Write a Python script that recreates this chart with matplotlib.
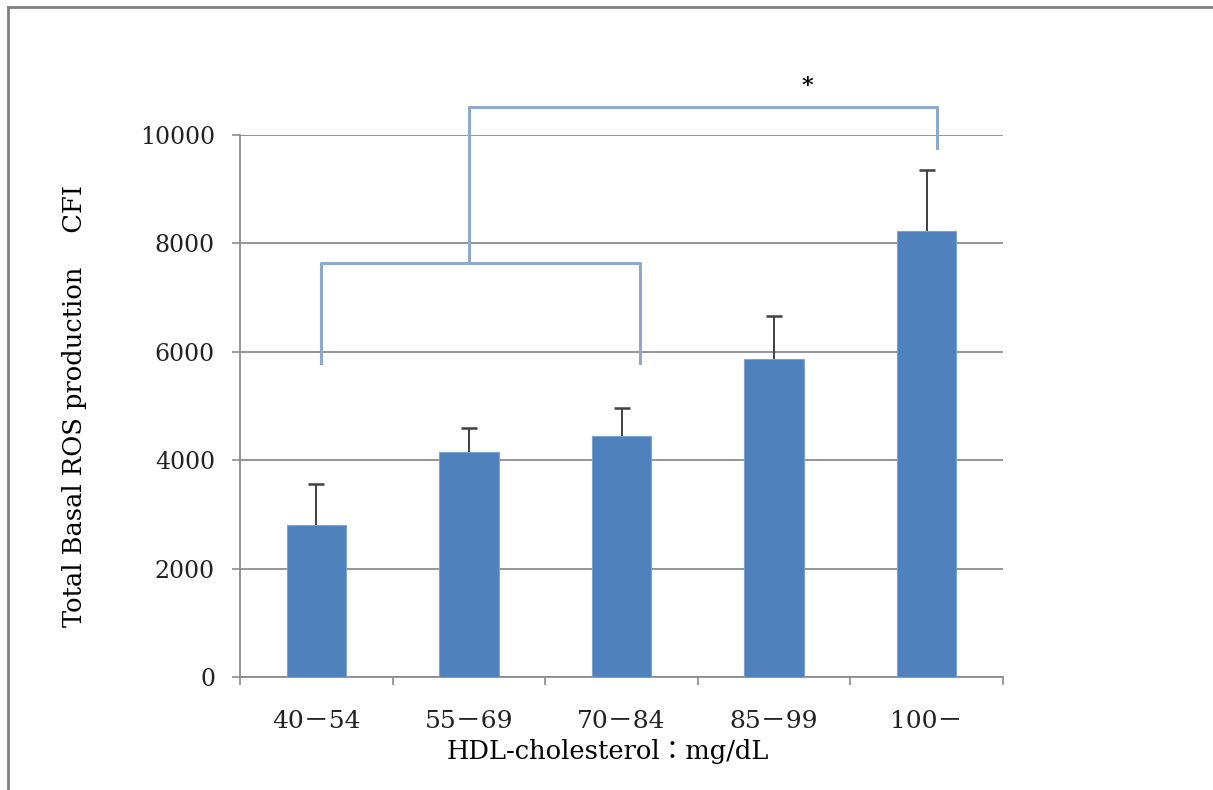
import matplotlib
matplotlib.use("Agg")
import matplotlib.pyplot as plt
import numpy as np

plt.rcParams['font.family'] = ['DejaVu Serif', 'Noto Sans CJK JP']

# データ
groups = ["40－54", "55－69", "70－84", "85－99", "100－"]
ros_mean = [2800, 4150, 4450, 5870, 8220]
ros_err = [760, 440, 510, 790, 1130]

# ブラケット (x, y)
inner_bracket_x = [0.03, 0.03, 2.12, 2.12]
inner_bracket_y = [5800, 7640, 7640, 5800]
outer_bracket_x = [1.0, 1.0, 4.07, 4.07]
outer_bracket_y = [7640, 10520, 10520, 9760]
star_pos = (3.22, 10900)

BAR_COLOR = "#4F81BD"
BRACKET_COLOR = "#8EA9CC"
GRID_COLOR = "#8C8C8C"

fig = plt.figure(figsize=(12.13, 7.90), dpi=100)
ax = fig.add_axes([240 / 1213, 1 - 677 / 790, 763 / 1213, 542 / 790])

x = np.arange(len(groups))
ax.bar(x, ros_mean, width=0.39, color=BAR_COLOR, edgecolor="#7FA3D0", linewidth=0.8, zorder=3)
# 上側のみの誤差棒
err_top = np.array(ros_mean) + np.array(ros_err)
ax.vlines(x, ros_mean, err_top, color="#404040", linewidth=1.4, zorder=4)
ax.plot(x, err_top, linestyle="none", marker="_", markersize=12, markeredgewidth=1.8,
        color="#404040", zorder=4)

ax.set_xlim(-0.5, len(groups) - 0.5)
ax.set_ylim(0, 10000)
ax.set_yticks(np.arange(0, 10001, 2000))
ax.set_xticks(x)
ax.set_xticklabels(groups)
ax.set_xticks(np.arange(-0.5, len(groups), 1), minor=True)
ax.tick_params(axis="x", which="major", length=0, pad=24, labelsize=18, labelcolor="#222222")
ax.tick_params(axis="x", which="minor", length=6, width=1.2, color=GRID_COLOR, direction="out")
ax.tick_params(axis="y", length=6, width=1.2, color=GRID_COLOR, pad=12, labelsize=17,
               labelcolor="#222222")

ax.yaxis.grid(True, color=GRID_COLOR, linewidth=1.3, zorder=0)
ax.set_axisbelow(True)
for side in ["top", "right"]:
    ax.spines[side].set_visible(False)
for side in ["left", "bottom"]:
    ax.spines[side].set_color(GRID_COLOR)
    ax.spines[side].set_linewidth(1.3)

ax.set_ylabel("Total Basal ROS production\u3000 CFI", fontsize=18.5, labelpad=38)
ax.set_xlabel("HDL-cholesterol：mg/dL", fontsize=18.5, labelpad=6)
ax.xaxis.set_label_coords(0.482, -0.115)

# 有意差ブラケット
ax.plot(inner_bracket_x, inner_bracket_y, color=BRACKET_COLOR, linewidth=2.2, clip_on=False, zorder=5)
ax.plot(outer_bracket_x, outer_bracket_y, color=BRACKET_COLOR, linewidth=2.2, clip_on=False, zorder=5)
ax.text(star_pos[0], star_pos[1], "*", ha="center", va="center", fontsize=16,
        fontweight="bold", clip_on=False)

# 外枠
fig.add_artist(plt.Line2D([8 / 1213, 8 / 1213], [0, 1 - 7 / 790], color="#808080", linewidth=2))
fig.add_artist(plt.Line2D([8 / 1213, 1], [1 - 7 / 790, 1 - 7 / 790], color="#808080", linewidth=2))

fig.savefig("out.png", dpi=100)
